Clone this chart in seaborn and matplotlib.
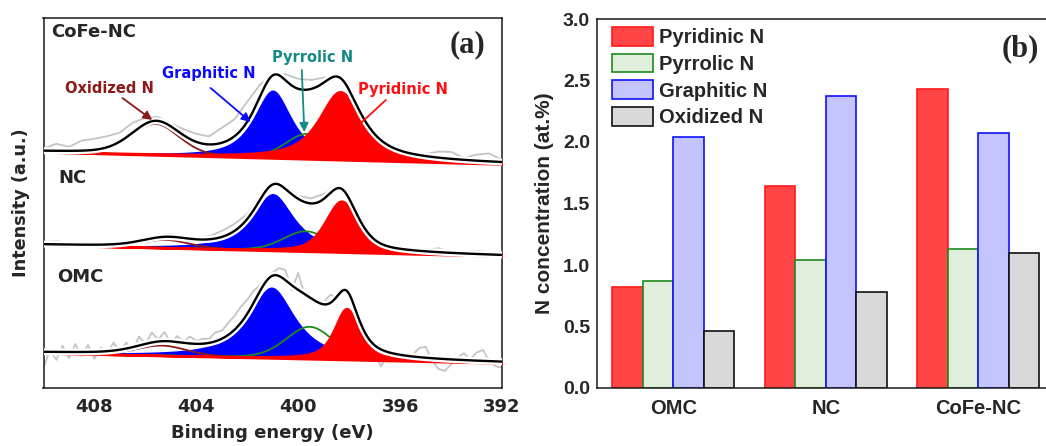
import numpy as np
import pandas as pd
import matplotlib
matplotlib.use("Agg")
import matplotlib.pyplot as plt
import matplotlib.patheffects as pe
from matplotlib.ticker import MultipleLocator, FormatStrFormatter
import seaborn as sns

# ---------------- (a) N 1s spectra: fitted components ----------------
samples = ["CoFe-NC", "NC", "OMC"]
bg_high_be = [236, 143, 35]      # background level at 410 eV
bg_low_be = [224, 132, 25]       # background level at 392 eV

pyridinic_pos = [398.35, 398.3, 398.1]
pyridinic_amp = [68, 51, 51]
pyridinic_fwhm = [2.0, 1.5, 1.15]
pyridinic_mix = [0.8, 0.5, 0.7]

pyrrolic_pos = [399.65, 399.7, 399.55]
pyrrolic_amp = [25, 20, 32]
pyrrolic_fwhm = [2.0, 2.1, 2.2]
pyrrolic_mix = [0.2, 0.2, 0.2]

graphitic_pos = [401.0, 401.0, 401.05]
graphitic_amp = [68, 57, 71]
graphitic_fwhm = [1.8, 2.0, 2.2]
graphitic_mix = [0.8, 0.9, 0.9]

oxidized_pos = [405.6, 405.2, 405.35]
oxidized_amp = [31, 8, 10]
oxidized_fwhm = [2.2, 2.2, 2.3]
oxidized_mix = [0.2, 0.2, 0.2]

# measured counts relative to the fit envelope (410 -> 392 eV)
cofe_resid = [2, 7, 4, 10, 11, 11, 9, 10, 6, 4, 3, 6, 8, 8, 15, 17, 20, 12, 1,
              6, 10, 9, 5, 1, 0, 0, 0, 0, 1, 2, 2, 6, 7, 2, 6, 8, 2]
nc_resid = [2, 3, 2, 1, 2, 1, 2, 1, 2, 2, 3, 2, 2, 3, 6, 7, 5, 3, 1,
            2, 3, 5, 5, 1, 0, 0, 0, 0, 1, 0, 1, 4, 0, 1, 3, 2, 0]
omc_resid = [-16, 2, -8, 6, -6, 8, -4, 7, -7, 4, -3, 8, -2, 6, -4, 9, 0, 10, 2,
             9, -2, 6, 1, 7, 3, 5, 4, 9, 8, 12, 14, 16, 14, 12, 6, 4, 3,
             8, 10, -5, 17, -1, -3, 0, 2, 8, 1, 0, -2, 0, -2, 0, -7, -17, -3,
             -4, -4, -2, 2, 9, 11, -2, -10, -12, -5, 2, 7, 1, 8, 11, 0, -5, -6]
residuals = [cofe_resid, nc_resid, omc_resid]

# ---------------- (b) nitrogen species content ----------------
groups = ["OMC", "NC", "CoFe-NC"]
species = ["Pyridinic N", "Pyrrolic N", "Graphitic N", "Oxidized N"]
pyridinic_at = [0.82, 1.64, 2.43]
pyrrolic_at = [0.87, 1.04, 1.13]
graphitic_at = [2.04, 2.37, 2.07]
oxidized_at = [0.46, 0.78, 1.10]

bar_fill = ["#ff4545", "#e0eedc", "#c4c4ff", "#d9d9d9"]
bar_edge = ["#ff1a1a", "#1f8a1f", "#1010ff", "#111111"]

sns.set_style("white")
plt.rcParams["font.family"] = ["DejaVu Sans"]
plt.rcParams["font.weight"] = "bold"
plt.rcParams["axes.labelweight"] = "bold"
plt.rcParams["axes.linewidth"] = 1.1
plt.rcParams["axes.edgecolor"] = "#1a1a1a"

fig = plt.figure(figsize=(10.46, 4.46), dpi=100)
ax = fig.add_axes([43.5 / 1046, 58 / 446, 458.5 / 1046, 370 / 446])
axb = fig.add_axes([597 / 1046, 58 / 446, 457.5 / 1046, 369 / 446])


def pvoigt(x, pos, amp, fwhm, mix):
    u = (x - pos) / fwhm
    return amp * (mix / (1 + 4 * u ** 2) + (1 - mix) * np.exp(-4 * np.log(2) * u ** 2))


def background(x, i):
    return bg_high_be[i] + (bg_low_be[i] - bg_high_be[i]) * (410 - x) / 18.0


def components(x, i):
    return (pvoigt(x, pyridinic_pos[i], pyridinic_amp[i], pyridinic_fwhm[i], pyridinic_mix[i]),
            pvoigt(x, pyrrolic_pos[i], pyrrolic_amp[i], pyrrolic_fwhm[i], pyrrolic_mix[i]),
            pvoigt(x, graphitic_pos[i], graphitic_amp[i], graphitic_fwhm[i], graphitic_mix[i]),
            pvoigt(x, oxidized_pos[i], oxidized_amp[i], oxidized_fwhm[i], oxidized_mix[i]))


E = np.linspace(410, 392, 1201)
halo = [pe.Stroke(linewidth=5, foreground="white"), pe.Normal()]
for i, name in enumerate(samples):
    base = background(E, i)
    pyd, pyr, gra, oxi = components(E, i)
    env = base + pyd + pyr + gra + oxi

    e_raw = np.linspace(410, 392, len(residuals[i]))
    raw = background(e_raw, i) + sum(components(e_raw, i)) + np.array(residuals[i])
    sns.lineplot(x=e_raw, y=raw, color="#c4c4c4", lw=1.3, ax=ax, zorder=1)

    ax.fill_between(E, base, base + gra, color="#0000ff", lw=0, zorder=2)
    sns.lineplot(x=E, y=base + pyr, color="#1f8a1f", lw=1.3, ax=ax, zorder=3)
    sns.lineplot(x=E, y=base + oxi, color="#8b1a1a", lw=1.3, ax=ax, zorder=3)
    ax.fill_between(E, base, base + pyd, facecolor="#ff0000", edgecolor="#ff0000",
                    lw=1.8, zorder=4)
    sns.lineplot(x=E, y=env, color="black", lw=1.7, ax=ax, zorder=6, path_effects=halo)

ax.set_xlim(410, 392)
ax.set_ylim(0, 370)
ax.set_yticks([])
ax.set_xticks([408, 404, 400, 396, 392])
ax.xaxis.set_minor_locator(MultipleLocator(2))
ax.tick_params(axis="x", which="major", direction="in", length=5, width=1.1,
               labelsize=13, pad=7)
ax.tick_params(axis="x", which="minor", direction="in", length=3, width=1.1)
ax.set_xlabel("Binding energy (eV)", fontsize=13, labelpad=6)
ax.set_ylabel("Intensity (a.u.)", fontsize=12.7, labelpad=10)

label_fs = 13
ax.text(409.7, 356, "CoFe-NC", fontsize=label_fs, ha="left", va="center")
ax.text(409.4, 210, "NC", fontsize=label_fs, ha="left", va="center")
ax.text(409.45, 111, "OMC", fontsize=label_fs, ha="left", va="center")
ax.text(393.35, 343, "(a)", fontsize=22, family="Liberation Serif",
        ha="center", va="center")

# component labels with their pointers
ann_fs = 10.5
labels_a = [
    ("Oxidized N", (407.4, 300), (406.9, 290), (405.73, 268), "#8b1a1a", "-|>"),
    ("Graphitic N", (403.5, 315), (403.44, 300), (401.87, 266), "#0a0aff", "-|>"),
    ("Pyrrolic N", (399.44, 331), (399.86, 318), (399.76, 256), "#148a86", "-|>"),
    ("Pyridinic N", (395.9, 299), (396.56, 288), (397.58, 264), "#ff1010", "-"),
]
for text, tpos, start, end, col, style in labels_a:
    ax.text(*tpos, text, color=col, fontsize=ann_fs, ha="center", va="center", zorder=8)
    ax.annotate("", xy=end, xytext=start, zorder=8,
                arrowprops=dict(arrowstyle=style, color=col, lw=1.3,
                                shrinkA=0, shrinkB=0, mutation_scale=13))

# ---------------- (b) grouped bars ----------------
df = pd.DataFrame({
    "sample": np.repeat(groups, len(species)),
    "species": np.tile(species, len(groups)),
    "value": np.ravel(np.column_stack([pyridinic_at, pyrrolic_at, graphitic_at, oxidized_at])),
})
sns.barplot(data=df, x="sample", y="value", hue="species", order=groups,
            hue_order=species, palette=dict(zip(species, bar_fill)), saturation=1,
            width=0.8, legend=False, ax=axb)
for cont, ec in zip(axb.containers, bar_edge):
    for p in cont:
        p.set_edgecolor(ec)
        p.set_linewidth(1.2)

axb.set_xlim(-0.5, 2.5)
axb.set_ylim(0, 3.0)
axb.yaxis.set_major_locator(MultipleLocator(0.5))
axb.yaxis.set_minor_locator(MultipleLocator(0.25))
axb.yaxis.set_major_formatter(FormatStrFormatter("%.1f"))
axb.tick_params(axis="y", which="major", direction="in", length=5, width=1.1,
                labelsize=14, pad=5, labelfontfamily="Liberation Sans")
axb.tick_params(axis="y", which="minor", direction="in", length=3, width=1.1)
axb.tick_params(axis="x", length=0, labelsize=14.5, pad=8,
                labelfontfamily="Liberation Sans")
axb.set_xlabel("")
axb.set_ylabel("N concentration (at.%)", fontsize=15, family="Liberation Sans",
               labelpad=6)
axb.text(2.274, 2.757, "(b)", fontsize=22, family="Liberation Serif",
         ha="center", va="center")
axb.legend(handles=list(axb.containers), labels=species, loc="upper left",
           bbox_to_anchor=(0.033, 0.978), frameon=False, borderpad=0, borderaxespad=0,
           handlelength=2.05, handleheight=1.05, handletextpad=0.3, labelspacing=0.32,
           prop=dict(family="Liberation Sans", weight="bold", size=14.5))

fig.savefig("out.png", dpi=100)
